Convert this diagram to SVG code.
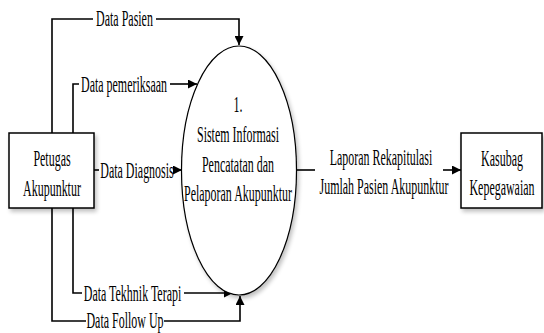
<svg xmlns="http://www.w3.org/2000/svg" width="544" height="333" viewBox="0 0 544 333">
<style>
.t{font-family:"Liberation Serif","Times New Roman",serif;font-size:23px;fill:#000;text-anchor:middle}
.box{fill:#fff;stroke:#000;stroke-width:1.5}
.ell{fill:#fff;stroke:#000;stroke-width:1.2}
.ln{fill:none;stroke:#000;stroke-width:1.6}
</style>
<defs>
<marker id="ah" viewBox="0 0 10 10" refX="10" refY="5" markerUnits="userSpaceOnUse" markerWidth="9" markerHeight="9" orient="auto">
<path d="M0,0 L10,5 L0,10 z" fill="#000"/>
</marker>
<filter id="sh" x="-10%" y="-10%" width="130%" height="130%">
<feGaussianBlur in="SourceAlpha" stdDeviation="2"/>
<feOffset dx="2" dy="3" result="b"/>
<feComponentTransfer><feFuncA type="linear" slope="0.25"/></feComponentTransfer>
<feMerge><feMergeNode/><feMergeNode in="SourceGraphic"/></feMerge>
</filter>
</defs>
<g id="connectors">
<path class="ln" d="M52,133 V19 H93"/>
<path class="ln" d="M156,19 H239 V45" marker-end="url(#ah)"/>
<text class="t" transform="translate(124.5,26) scale(0.52,1)">Data Pasien</text>
<path class="ln" d="M73,133 V84 H79"/>
<path class="ln" d="M170,84 H197" marker-end="url(#ah)"/>
<text class="t" transform="translate(124,91.5) scale(0.52,1)">Data pemeriksaan</text>
<path class="ln" d="M94,170 H99"/>
<path class="ln" d="M174,170 H182" marker-end="url(#ah)"/>
<text class="t" transform="translate(137,177.5) scale(0.52,1)">Data Diagnosis</text>
<path class="ln" d="M73,208 V293 H82"/>
<path class="ln" d="M184,293 H233" marker-end="url(#ah)"/>
<text class="t" transform="translate(132.5,300.5) scale(0.52,1)">Data Tekhnik Terapi</text>
<path class="ln" d="M52,208 V321 H86"/>
<path class="ln" d="M164,321 H240 V296" marker-end="url(#ah)"/>
<text class="t" transform="translate(125,328) scale(0.52,1)">Data Follow Up</text>
<path class="ln" d="M297,170 H315"/>
<path class="ln" d="M443,170 H461" marker-end="url(#ah)"/>
<text class="t" transform="translate(381,165) scale(0.52,1)">Laporan Rekapitulasi</text>
<text class="t" transform="translate(384,194) scale(0.52,1)">Jumlah Pasien Akupunktur</text>
</g>
<g id="petugas">
<rect class="box" x="9" y="133" width="85" height="75" filter="url(#sh)"/>
<text class="t" transform="translate(52,166) scale(0.52,1)">Petugas</text>
<text class="t" transform="translate(52,196) scale(0.52,1)">Akupunktur</text>
</g>
<g id="proses">
<ellipse class="ell" cx="239" cy="170.5" rx="57.5" ry="124.5" filter="url(#sh)"/>
<text class="t" transform="translate(238,112) scale(0.52,1)">1.</text>
<text class="t" transform="translate(238,142) scale(0.52,1)">Sistem Informasi</text>
<text class="t" transform="translate(238,172) scale(0.52,1)">Pencatatan dan</text>
<text class="t" transform="translate(238,201) scale(0.52,1)">Pelaporan Akupunktur</text>
</g>
<g id="kasubag">
<rect class="box" x="461" y="133" width="81" height="75" filter="url(#sh)"/>
<text class="t" transform="translate(502,166) scale(0.52,1)">Kasubag</text>
<text class="t" transform="translate(502,195) scale(0.52,1)">Kepegawaian</text>
</g>
</svg>
